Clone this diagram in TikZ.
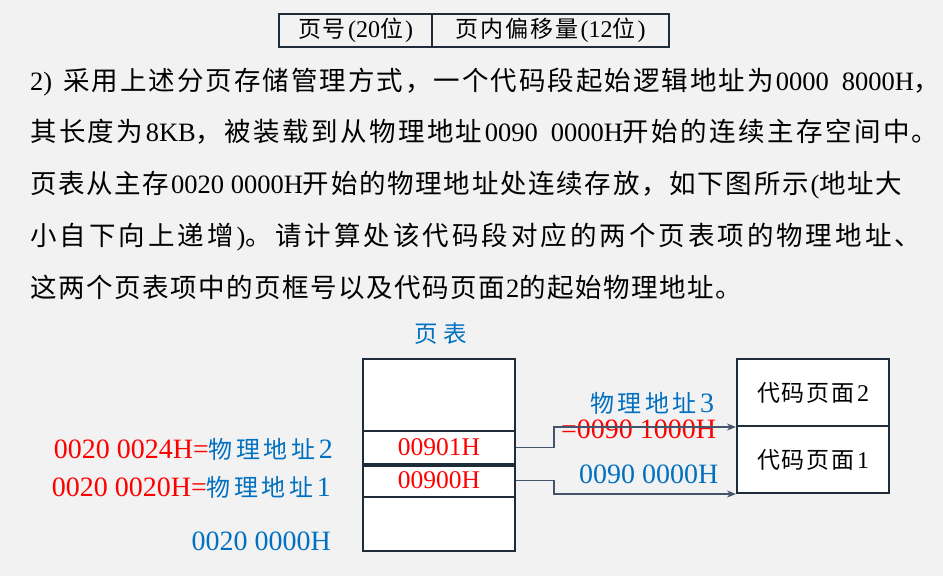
\documentclass[tikz,border=0pt]{standalone}
\usepackage{fontspec}
\setmainfont{Liberation Serif}
\newfontfamily\cjf{Noto Sans CJK SC}
\usetikzlibrary{arrows.meta}
\definecolor{bg}{HTML}{F2F2F2}
\definecolor{navy}{HTML}{1F2D3A}
\definecolor{conncol}{HTML}{44546A}
\definecolor{myred}{HTML}{FF0000}
\definecolor{myblue}{HTML}{0070C0}
\let\zhend\relax
\def\zhloop#1{\ifx#1\zhend\else\makebox[\zhw pt][l]{#1}\expandafter\zhloop\fi}
\newcommand\zh[3][26.5]{{\cjf\fontsize{#1}{#1}\selectfont\def\zhw{#2}\zhloop#3\zhend}}
\tikzset{
  txt/.style={inner sep=0pt, anchor=base west, font=\fontsize{26.5}{30}\selectfont},
  lbl/.style={inner sep=0pt, font=\fontsize{28}{32}\selectfont},
  cell/.style={draw=navy, line width=2pt, fill=white, minimum width=152pt, inner sep=0pt},
  topbox/.style={draw=navy, line width=2pt, inner sep=0pt, minimum height=33pt, font=\fontsize{24}{28}\selectfont},
  conn/.style={draw=conncol, line width=1.5pt, -{Stealth[length=9pt,width=7pt]}},
}
\begin{document}
\begin{tikzpicture}[x=1pt,y=-1pt]
\fill[bg] (0,0) rectangle (943,576);
\useasboundingbox (0,0) rectangle (943,576);

% header boxes
\node[topbox, minimum width=153pt] (hdr1) at (355.5,30.5) {\zh[23]{25}{页号}(20\zh[23]{25}{位})};
\node[topbox, minimum width=237pt] (hdr2) at (550.5,30.5) {\zh[23]{25}{页内偏移量}(12\zh[23]{25}{位})};

% paragraph
\node[txt] (l1) at (30,90) {2)\hspace{11pt}\zh{28.5}{采用上述分页存储管理方式，一个代码段起始逻辑地址为}0000\hspace{13pt}8000H\zh{28.5}{，}};
\node[txt] (l2) at (30,141) {\zh{28.9}{其长度为}8KB\zh{28.9}{，被装载到从物理地址}0090\hspace{13pt}0000H\zh{28.9}{开始的连续主存空间中。}};
\node[txt] (l3) at (30,193) {\zh{28.2}{页表从主存}0020 0000H\zh{28.2}{开始的物理地址处连续存放，如下图所示}(\zh{28.2}{地址大}};
\node[txt] (l4) at (30,245) {\zh{29.5}{小自下向上递增})\zh{29.5}{。请计算处该代码段对应的两个页表项的物理地址、}};
\node[txt] (l5) at (30,297) {\zh{28}{这两个页表项中的页框号以及代码页面}2\zh{28}{的起始物理地址。}};

% page table
\node[inner sep=0pt, anchor=base west, text=myblue] (pt) at (414,342) {\zh[23.5]{29}{页表}};
\node[cell, minimum height=72pt] (ptop) at (439,395) {};
\node[cell, minimum height=33pt, text=myred, font=\fontsize{25.5}{28}\selectfont] (row1) at (439,447.5) {00901H};
\node[cell, minimum height=33pt, text=myred, font=\fontsize{25.5}{28}\selectfont] (row2) at (439,480.5) {00900H};
\node[cell, minimum height=54pt] (pbot) at (439,524) {};
\draw[navy, line width=3.5pt] (row1.south west) -- (row1.south east);

% left labels
\node[lbl, anchor=base east] (a2) at (333,458) {{\color{myred}0020 0024H=}{\color{myblue}\zh[24]{27.5}{物理地址}2}};
\node[lbl, anchor=base east] (a1) at (331,496) {{\color{myred}0020 0020H=}{\color{myblue}\zh[24]{27.5}{物理地址}1}};
\node[lbl, anchor=base east, text=myblue] (a0) at (331,550) {0020 0000H};

% memory pages
\node[cell, minimum height=67pt, font=\fontsize{24}{28}\selectfont] (pg2) at (813,392.5) {\zh[23]{25}{代码页面}2};
\node[cell, minimum height=67pt, font=\fontsize{24}{28}\selectfont] (pg1) at (813,459.5) {\zh[23]{25}{代码页面}1};

% connector labels
\node[lbl, anchor=base west, text=myblue] (b3) at (590,412) {\zh[24]{27.5}{物理地址}3};
\node[lbl, anchor=base west, text=myred] (b3v) at (561,438) {=0090 1000H};
\node[lbl, anchor=base west, text=myblue] (b1) at (579,483) {0090 0000H};

% connectors
\draw[conn] (row1.east) -- ++(38,0) |- (pg2.south west);
\draw[conn] (row2.east) -- ++(38,0) |- (pg1.south west);
\end{tikzpicture}
\end{document}
